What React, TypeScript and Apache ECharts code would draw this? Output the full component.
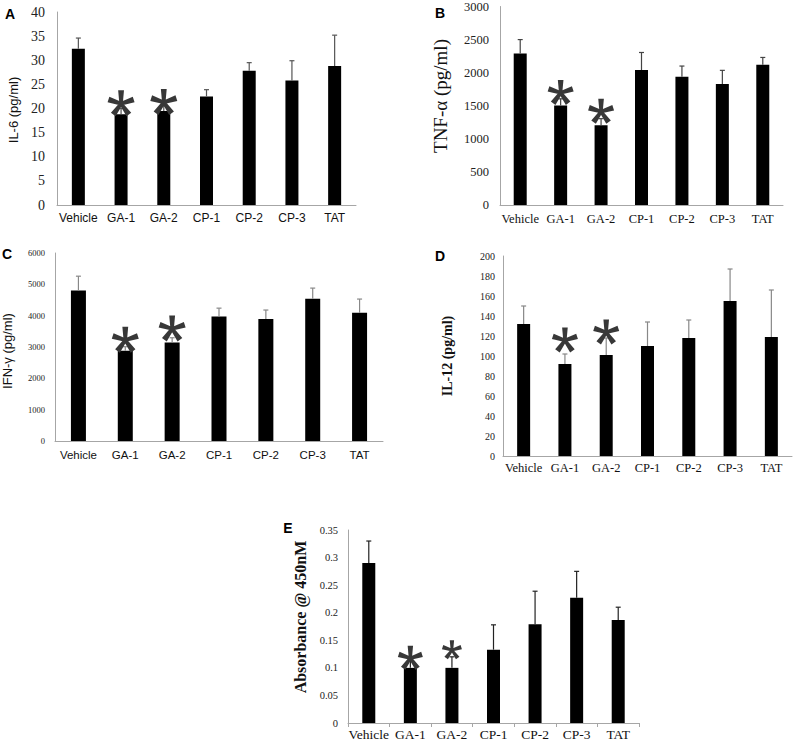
import React, { useEffect, useRef } from "react";
import * as echarts from "echarts";

// ---------- data ----------
const categories = ["Vehicle", "GA-1", "GA-2", "CP-1", "CP-2", "CP-3", "TAT"];
const significantIdx = [1, 2];

const il6Values = [32.4, 18.8, 19.5, 22.5, 27.8, 25.8, 28.8];
const il6Errors = [2.2, 1.2, 1.0, 1.4, 1.7, 4.1, 6.4];

const tnfValues = [2290, 1505, 1205, 2040, 1940, 1830, 2120];
const tnfErrors = [210, 100, 100, 265, 160, 205, 110];

const ifnValues = [4800, 2880, 3145, 3975, 3890, 4540, 4090];
const ifnErrors = [460, 130, 150, 265, 290, 340, 440];

const il12Values = [132, 92, 101, 110, 118, 155, 119];
const il12Errors = [18, 10, 17, 24, 18, 32, 47];

const absValues = [0.29, 0.1, 0.1, 0.133, 0.179, 0.227, 0.187];
const absErrors = [0.04, 0.012, 0.02, 0.045, 0.06, 0.048, 0.023];

const axisMax = [40, 3000, 6000, 200, 0.35];
const axisInterval = [5, 500, 1000, 20, 0.05];

// ---------- styling ----------
const SERIF = "'Liberation Serif', 'Times New Roman', serif";
const SANS = "'Liberation Sans', Arial, sans-serif";
const AXIS_COLOR = "#a6a6a6";

function starPath(): string {
  const arms = [90, 18, -54, -126, 162];
  const L = 50, w0 = 6, w1 = 11, back = 5;
  let d = "";
  for (const a of arms) {
    const r = (a * Math.PI) / 180;
    const dx = Math.cos(r), dy = -Math.sin(r);
    const px = -dy, py = dx;
    const bx = -dx * back, by = -dy * back;
    const pts = [
      [bx - px * w0, by - py * w0],
      [dx * L - px * w1, dy * L - py * w1],
      [dx * L + px * w1, dy * L + py * w1],
      [bx + px * w0, by + py * w0],
    ];
    d += "M" + pts.map((p) => (p[0] + 60).toFixed(2) + " " + (p[1] + 60).toFixed(2)).join("L") + "Z";
  }
  return "path://" + d;
}
const STAR = starPath();

const panels = [
  {
    values: il6Values, errors: il6Errors,
    grid: { left: 57, top: 12, width: 299, height: 193 },
    barWidth: 13,
    tick: { family: SERIF, size: 14, margin: 12 },
    cat: { family: SANS, size: 12, margin: 7 },
    ticks: false,
    errColor: "#555",
    stars: [{ w: 27, h: 26, off: 11 }, { w: 27, h: 26, off: 9 }],
    title: { text: "IL-6 (pg/ml)", x: 13, y: 110, family: SANS, size: 13, weight: "normal" },
    letter: { text: "A", x: 10, y: 14 },
  },
  {
    values: tnfValues, errors: tnfErrors,
    grid: { left: 500, top: 6, width: 283, height: 199 },
    barWidth: 13,
    tick: { family: SERIF, size: 12.5, margin: 11 },
    cat: { family: SERIF, size: 12.5, margin: 7 },
    ticks: false,
    errColor: "#444",
    stars: [{ w: 26, h: 25, off: 13 }, { w: 26, h: 25, off: 14 }],
    title: { text: "TNF-α (pg/ml)", x: 440, y: 96, family: SERIF, size: 19, weight: "normal" },
    letter: { text: "B", x: 440, y: 13 },
  },
  {
    values: ifnValues, errors: ifnErrors,
    grid: { left: 55, top: 253, width: 328, height: 188 },
    barWidth: 15,
    tick: { family: SERIF, size: 8.5, margin: 10 },
    cat: { family: SANS, size: 11.5, margin: 8 },
    ticks: false,
    errColor: "#888",
    stars: [{ w: 27, h: 26, off: 11 }, { w: 27, h: 26, off: 14 }],
    title: { text: "IFN-γ (pg/ml)", x: 7, y: 351, family: SANS, size: 13, weight: "normal" },
    letter: { text: "C", x: 7, y: 254 },
  },
  {
    values: il12Values, errors: il12Errors,
    grid: { left: 503, top: 256, width: 289, height: 200 },
    barWidth: 13,
    tick: { family: SERIF, size: 10, margin: 8 },
    cat: { family: SERIF, size: 12.5, margin: 5 },
    ticks: false,
    errColor: "#888",
    stars: [{ w: 26, h: 25, off: 24 }, { w: 26, h: 25, off: 23 }],
    title: { text: "IL-12 (pg/ml)", x: 447, y: 356, family: SERIF, size: 14, weight: "bold" },
    letter: { text: "D", x: 440, y: 256 },
  },
  {
    values: absValues, errors: absErrors,
    grid: { left: 348, top: 530, width: 291, height: 193 },
    barWidth: 13,
    tick: { family: SERIF, size: 10.5, margin: 10 },
    cat: { family: SERIF, size: 13.5, margin: 4 },
    ticks: true,
    errColor: "#222",
    stars: [{ w: 25, h: 24, off: 10 }, { w: 20, h: 19, off: 18 }],
    title: { text: "Absorbance @ 450nM", x: 300, y: 617, family: SERIF, size: 16, weight: "bold" },
    letter: { text: "E", x: 288, y: 528 },
  },
];

function buildOption() {
  const grid: any[] = [];
  const xAxis: any[] = [];
  const yAxis: any[] = [];
  const series: any[] = [];
  const graphic: any[] = [];

  panels.forEach((p, i) => {
    grid.push({ ...p.grid, containLabel: false });
    xAxis.push({
      type: "category",
      gridIndex: i,
      data: categories,
      axisLine: { show: true, lineStyle: { color: AXIS_COLOR, width: 1 } },
      axisTick: { show: p.ticks, length: 4, lineStyle: { color: AXIS_COLOR } },
      axisLabel: {
        interval: 0,
        margin: p.cat.margin,
        fontFamily: p.cat.family,
        fontSize: p.cat.size,
        color: "#111",
      },
      splitLine: { show: false },
    });
    yAxis.push({
      type: "value",
      gridIndex: i,
      min: 0,
      max: axisMax[i],
      interval: axisInterval[i],
      axisLine: { show: true, lineStyle: { color: AXIS_COLOR, width: 1 } },
      axisTick: { show: false },
      splitLine: { show: false },
      axisLabel: {
        margin: p.tick.margin,
        fontFamily: p.tick.family,
        fontSize: p.tick.size,
        color: "#222",
        formatter: (v: number) => String(Math.round(v * 1000) / 1000),
      },
    });
    series.push({
      type: "bar",
      xAxisIndex: i,
      yAxisIndex: i,
      data: p.values,
      barWidth: p.barWidth,
      itemStyle: { color: "#000" },
      z: 2,
    });
    const errColor = p.errColor;
    series.push({
      type: "custom",
      xAxisIndex: i,
      yAxisIndex: i,
      z: 3,
      data: p.values.map((v, k) => [k, v, v + p.errors[k]]),
      encode: { x: 0, y: [1, 2] },
      renderItem: (params: any, api: any) => {
        const x = api.value(0);
        const p0 = api.coord([x, api.value(1)]);
        const p1 = api.coord([x, api.value(2)]);
        const style = { stroke: errColor, lineWidth: 1.2 };
        return {
          type: "group",
          children: [
            { type: "line", shape: { x1: p0[0], y1: p0[1], x2: p1[0], y2: p1[1] }, style },
            { type: "line", shape: { x1: p1[0] - 2.5, y1: p1[1], x2: p1[0] + 2.5, y2: p1[1] }, style },
          ],
        };
      },
    });
    series.push({
      type: "scatter",
      xAxisIndex: i,
      yAxisIndex: i,
      z: 4,
      silent: true,
      data: significantIdx.map((k, j) => ({
        value: [k, p.values[k]],
        symbol: STAR,
        symbolSize: [p.stars[j].w, p.stars[j].h],
        symbolOffset: [0, -p.stars[j].off],
      })),
      itemStyle: { color: "#383838", opacity: 1 },
    });

    graphic.push({
      type: "text",
      x: p.title.x,
      y: p.title.y,
      rotation: Math.PI / 2,
      style: {
        text: p.title.text,
        fill: "#111",
        font: `${p.title.weight} ${p.title.size}px ${p.title.family}`,
        textAlign: "center",
        textVerticalAlign: "middle",
      },
    });
    graphic.push({
      type: "text",
      x: p.letter.x,
      y: p.letter.y,
      style: {
        text: p.letter.text,
        fill: "#000",
        font: `bold 14px ${SANS}`,
        textAlign: "center",
        textVerticalAlign: "middle",
      },
    });
  });

  return { animation: false, backgroundColor: "#fff", grid, xAxis, yAxis, series, graphic };
}

export default function App() {
  const ref = useRef<HTMLDivElement>(null);
  useEffect(() => {
    if (!ref.current) return;
    const chart = echarts.init(ref.current, undefined, { renderer: "svg" });
    chart.setOption(buildOption() as any);
    return () => chart.dispose();
  }, []);
  return (
    <div
      ref={ref}
      style={{ position: "absolute", left: 0, top: 0, width: 797, height: 745, background: "#fff" }}
    />
  );
}
